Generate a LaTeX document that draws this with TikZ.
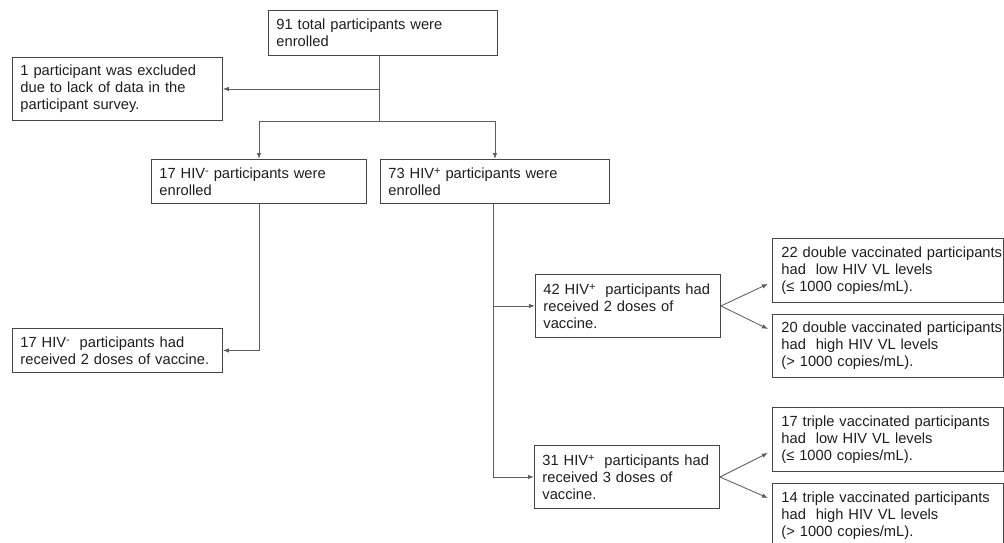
\documentclass[tikz,border=0pt]{standalone}
\usepackage{fontspec}
\setmainfont{Liberation Sans}
\usepackage{tikz}
\usetikzlibrary{arrows.meta}
\definecolor{txtgray}{HTML}{1E1E1E}
\definecolor{boxgray}{HTML}{454545}
\definecolor{linegray}{HTML}{5E5E5E}
\tikzset{
	box/.style={draw=boxgray, line width=0.9pt, text=txtgray, anchor=north west, inner xsep=8pt, inner ysep=0pt, align=left, text width=#1},
	rbox/.style={box=213pt, inner xsep=9pt, minimum height=64pt},
	conn/.style={draw=linegray, line width=0.85pt}
}
\newcommand{\hivsup}[1]{\raisebox{0.5ex}{\fontsize{11}{11}\selectfont #1}}
\begin{document}
\begin{tikzpicture}[x=1pt, y=-1pt, >={Latex[length=6pt,width=4.5pt]}, font=\fontsize{14.7}{17}\selectfont]
	\useasboundingbox (0,0) rectangle (1004,542);
	\clip (0,0) rectangle (1004,542);
%	\draw [help lines] (0,0) grid (1004,542);
	\node [box=213pt, minimum height=45pt] (total) at (268,10) {91 total participants were\\enrolled};
	\node [box=194pt, minimum height=63pt] (excl) at (12,57) {1 participant was excluded\\due to lack of data in the\\participant survey.};
	\node [box=199pt, minimum height=44pt] (neg) at (151,159) {17 HIV\hivsup{-} participants were\\enrolled};
	\node [box=213pt, minimum height=44pt] (pos) at (380,159) {73 HIV\hivsup{+} participants were\\enrolled};
	\node [box=194pt, minimum height=44pt] (negvac) at (12,328) {17 HIV\hivsup{-}\ \ participants had\\received 2 doses of vaccine.};
	\node [box=169pt, minimum height=63pt] (dose2) at (535,274) {42 HIV\hivsup{+}\ \ participants had\\received 2 doses of\\vaccine.};
	\node [box=169pt, minimum height=63pt] (dose3) at (534,445) {31 HIV\hivsup{+}\ \ participants had\\received 3 doses of\\vaccine.};
	\node [rbox] (low2) at (772,238) {\mbox{22 double vaccinated participants}\\had\ \ low HIV VL levels\\(≤ 1000 copies/mL).};
	\node [rbox, minimum height=63pt] (high2) at (772,314) {\mbox{20 double vaccinated participants}\\had\ \ high HIV VL levels\\(> 1000 copies/mL).};
	\node [rbox] (low3) at (772,407) {17 triple vaccinated participants\\had\ \ low HIV VL levels\\(≤ 1000 copies/mL).};
	\node [rbox] (high3) at (772,483) {14 triple vaccinated participants\\had\ \ high HIV VL levels\\(> 1000 copies/mL).};
	\coordinate (split) at ([xshift=-4pt, yshift=-66pt]total.south);
	\draw [conn] ([xshift=-4pt]total.south) -- (split);
	\draw [conn, ->] (split |- excl.east) -- (excl.east);
	\draw [conn, ->] (split) -| (neg.north);
	\draw [conn, ->] (split) -| (pos.north);
	\draw [conn, ->] (neg.south) |- (negvac.east);
	\draw [conn, ->] ([xshift=-2pt]pos.south) |- (dose2.west);
	\draw [conn, ->] ([xshift=-2pt]pos.south) |- (dose3.west);
	\draw [conn, ->] (dose2.east) -- ([xshift=-4pt, yshift=19pt]low2.south west);
	\draw [conn, ->] (dose2.east) -- ([xshift=-4pt, yshift=-15pt]high2.north west);
	\draw [conn, ->] (dose3.east) -- ([xshift=-4pt, yshift=19pt]low3.south west);
	\draw [conn, ->] (dose3.east) -- ([xshift=-4pt, yshift=-15pt]high3.north west);
\end{tikzpicture}
\end{document}
